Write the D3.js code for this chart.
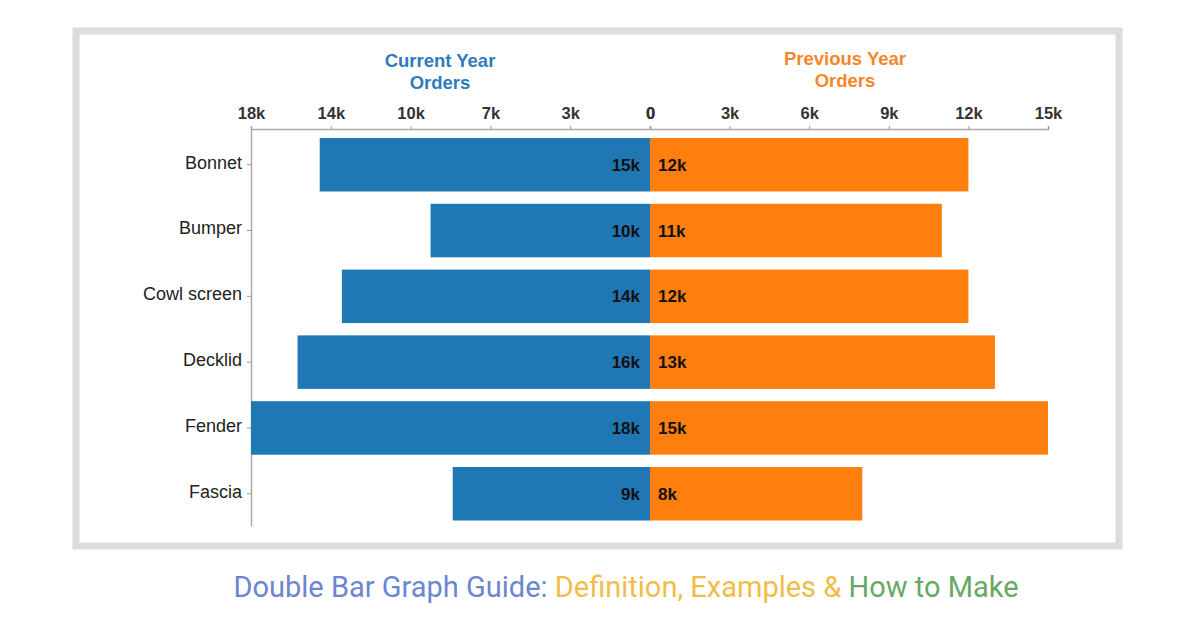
<!DOCTYPE html>
<html>
<head>
<meta charset="utf-8">
<script src="https://cdn.jsdelivr.net/npm/d3@7"></script>
<style>
  body { margin: 0; background: #fff; }
  svg { display: block; }
</style>
</head>
<body>
<div id="chart"></div>
<script>
var categories = ["Bonnet", "Bumper", "Cowl screen", "Decklid", "Fender", "Fascia"];
var currentYear = [14900, 9900, 13900, 15900, 18000, 8900];
var previousYear = [12000, 11000, 12000, 13000, 15000, 8000];
var leftTicks = [0, 3600, 7200, 10800, 14400, 18000];
var rightTicks = [0, 3000, 6000, 9000, 12000, 15000];
var caption = [
  {text: "Double Bar Graph Guide: ", color: "#6b86d1"},
  {text: "Definition, Examples & ", color: "#f0bd48"},
  {text: "How to Make", color: "#68a863"}
];

var W = 1196, H = 628;
var blue = "#1f77b4", orange = "#ff7f0e";
var font = "'Liberation Sans', Arial, sans-serif";

var svg = d3.select("#chart").append("svg")
  .attr("width", W).attr("height", H);

// frame
svg.append("rect")
  .attr("x", 76).attr("y", 31).attr("width", 1043).attr("height", 515)
  .attr("fill", "#fff").attr("stroke", "#dcdcdc").attr("stroke-width", 7);

var mid = 650;
var xLeft = d3.scaleLinear().domain([0, 18000]).range([mid, 251]);
var xRight = d3.scaleLinear().domain([0, 15000]).range([mid, 1048]);
var y = d3.scaleBand().domain(categories).range([129, 526])
  .paddingInner(0.187).paddingOuter(0.11).align(0.62);

var fmt = function(d) { return d === 0 ? "0" : Math.floor(d / 1000) + "k"; };

function styleAxis(g) {
  g.select(".domain").attr("stroke", "#aaa").attr("stroke-width", 1.5);
  g.selectAll(".tick line").attr("stroke", "#999");
  g.selectAll(".tick text")
    .attr("fill", "#333").style("font-family", font);
}

svg.append("g")
  .attr("transform", "translate(0,129)")
  .call(d3.axisTop(xLeft).tickValues(leftTicks).tickFormat(fmt).tickSize(3).tickPadding(7))
  .call(styleAxis)
  .selectAll(".tick text").style("font-size", "16.5px").style("font-weight", "bold");

svg.append("g")
  .attr("transform", "translate(0,129)")
  .call(d3.axisTop(xRight).tickValues(rightTicks).tickFormat(fmt).tickSize(3).tickPadding(7))
  .call(styleAxis)
  .selectAll(".tick text").style("font-size", "16.5px").style("font-weight", "bold");

svg.append("g")
  .attr("transform", "translate(251,0)")
  .call(d3.axisLeft(y).tickSize(4).tickPadding(5).tickSizeOuter(0))
  .call(styleAxis)
  .selectAll(".tick text").style("font-size", "18px").attr("dy", "0.22em").attr("fill", "#222");

var rows = categories.map(function(c, i) {
  return {cat: c, cur: currentYear[i], prev: previousYear[i]};
});

svg.selectAll(".barL").data(rows).enter().append("rect")
  .attr("x", function(d) { return xLeft(d.cur); })
  .attr("y", function(d) { return y(d.cat); })
  .attr("width", function(d) { return mid - xLeft(d.cur); })
  .attr("height", y.bandwidth())
  .attr("fill", blue);

svg.selectAll(".barR").data(rows).enter().append("rect")
  .attr("x", mid)
  .attr("y", function(d) { return y(d.cat); })
  .attr("width", function(d) { return xRight(d.prev) - mid; })
  .attr("height", y.bandwidth())
  .attr("fill", orange);

svg.selectAll(".lblL").data(rows).enter().append("text")
  .attr("x", mid - 10)
  .attr("y", function(d) { return y(d.cat) + y.bandwidth() / 2 + 6; })
  .attr("text-anchor", "end")
  .style("font-family", font).style("font-size", "17px").style("font-weight", "bold")
  .attr("fill", "#111")
  .text(function(d) { return Math.round(d.cur / 1000) + "k"; });

svg.selectAll(".lblR").data(rows).enter().append("text")
  .attr("x", mid + 8)
  .attr("y", function(d) { return y(d.cat) + y.bandwidth() / 2 + 6; })
  .style("font-family", font).style("font-size", "17px").style("font-weight", "bold")
  .attr("fill", "#111")
  .text(function(d) { return Math.round(d.prev / 1000) + "k"; });

// series titles
function title(x, y0, lines, color) {
  var t = svg.append("text")
    .attr("x", x).attr("y", y0)
    .attr("text-anchor", "middle")
    .style("font-family", font).style("font-size", "18.5px").style("font-weight", "bold")
    .attr("fill", color);
  lines.forEach(function(l, i) {
    t.append("tspan").attr("x", x).attr("dy", i === 0 ? 0 : 22).text(l);
  });
}
title(440, 67, ["Current Year", "Orders"], "#2f7bbd");
title(845, 65, ["Previous Year", "Orders"], "#f5872a");

// caption
var cap = svg.append("text")
  .attr("x", 626).attr("y", 597)
  .attr("text-anchor", "middle")
  .style("font-family", "Roboto, sans-serif").style("font-size", "29px");
cap.selectAll("tspan").data(caption).enter().append("tspan")
  .attr("fill", function(d) { return d.color; })
  .text(function(d) { return d.text; });
</script>
</body>
</html>
